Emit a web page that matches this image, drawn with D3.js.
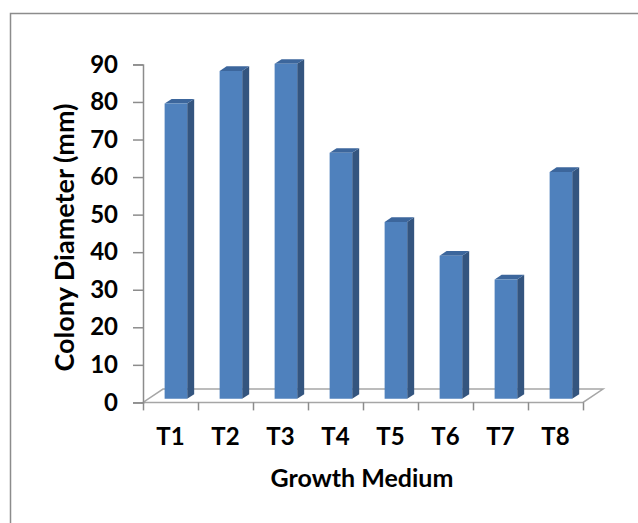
<!DOCTYPE html>
<html>
<head>
<meta charset="utf-8">
<script src="https://cdn.jsdelivr.net/npm/d3@7"></script>
<style>
	body { margin: 0; background: #fff; }
	svg { display: block; }
	text { font-family: Lato, "Open Sans", sans-serif; font-weight: bold; fill: #000; }
	.axis path, .axis line { stroke: #8c8c8c; stroke-width: 1.5; }
</style>
</head>
<body>
<script>
var categories = ["T1", "T2", "T3", "T4", "T5", "T6", "T7", "T8"];
var diameters = [78.6, 87.3, 89.2, 65.5, 47.1, 38.1, 31.8, 60.4];
var yTicks = [0, 10, 20, 30, 40, 50, 60, 70, 80, 90];
var xTitle = "Growth Medium",
		yTitle = "Colony Diameter (mm)";

var width = 638,
		height = 523;

// plot box (front plane) and the 3d depth offset
var plot = {left: 143, right: 583, top: 64.4, bottom: 402.4};
var depth = {dx: 20, dy: -13.3},
		barFront = 0.27,
		barBack = 0.62;

var svg = d3.select("body").append("svg")
		.attr("width", width)
		.attr("height", height);

svg.append("rect")
		.attr("x", 10.5)
		.attr("y", 13.5)
		.attr("width", 660)
		.attr("height", 540)
		.attr("fill", "none")
		.attr("stroke", "#8c8c8c")
		.attr("stroke-width", 1.5);

var x = d3.scaleBand()
		.domain(categories)
		.range([plot.left, plot.right])
		.paddingInner(0.59)
		.paddingOuter(0.295);

var xEdge = d3.scaleLinear()
		.domain([0, categories.length])
		.range([plot.left, plot.right]);

var y = d3.scaleLinear()
		.domain([0, 90])
		.range([plot.bottom, plot.top]);

function proj(px, py, z) {
	return [px + depth.dx * z, py + depth.dy * z];
}

function pts(list) {
	return list.map(function(p) { return p.join(","); }).join(" ");
}

// floor
svg.append("polygon")
		.attr("points", pts([
			proj(plot.left, y(0), 0),
			proj(plot.right, y(0), 0),
			proj(plot.right, y(0), 1),
			proj(plot.left, y(0), 1)
		]))
		.attr("fill", "none")
		.attr("stroke", "#a6a6a6")
		.attr("stroke-width", 1.5);

// axes
var gy = svg.append("g")
		.attr("class", "axis axis--y")
		.attr("transform", "translate(" + plot.left + ",0)")
		.call(d3.axisLeft(y)
			.tickValues(yTicks)
			.tickSize(10)
			.tickPadding(15));
gy.selectAll("text")
		.style("font-size", "24px");

var gx = svg.append("g")
		.attr("class", "axis axis--x")
		.attr("transform", "translate(0," + plot.bottom + ")")
		.call(d3.axisBottom(xEdge)
			.tickValues(d3.range(categories.length + 1))
			.tickSize(8)
			.tickFormat(""));
gx.select(".domain").remove();

var gLabels = svg.append("g")
		.attr("class", "axis axis--labels")
		.attr("transform", "translate(0," + plot.bottom + ")")
		.call(d3.axisBottom(x).tickSize(0).tickPadding(26));
gLabels.select(".domain").remove();
gLabels.selectAll("text")
		.style("font-size", "24px");

// bars
var bars = svg.append("g")
		.attr("class", "bars")
		.selectAll("g")
		.data(categories.map(function(c, i) { return {name: c, value: diameters[i]}; }))
		.join("g");

bars.append("polygon")
		.attr("class", "side")
		.attr("fill", "#34557f")
		.attr("points", function(d) {
			var x1 = x(d.name) + x.bandwidth();
			return pts([proj(x1, y(d.value), barFront), proj(x1, y(d.value), barBack),
				proj(x1, y(0), barBack), proj(x1, y(0), barFront)]);
		});

bars.append("polygon")
		.attr("class", "top")
		.attr("fill", "#3c669c")
		.attr("points", function(d) {
			var x0 = x(d.name), x1 = x0 + x.bandwidth();
			return pts([proj(x0, y(d.value), barFront), proj(x1, y(d.value), barFront),
				proj(x1, y(d.value), barBack), proj(x0, y(d.value), barBack)]);
		});

bars.append("polygon")
		.attr("class", "front")
		.attr("fill", "#4f81bd")
		.attr("points", function(d) {
			var x0 = x(d.name), x1 = x0 + x.bandwidth();
			return pts([proj(x0, y(d.value), barFront), proj(x1, y(d.value), barFront),
				proj(x1, y(0), barFront), proj(x0, y(0), barFront)]);
		});

// titles
svg.append("text")
		.attr("x", 362)
		.attr("y", 487)
		.attr("text-anchor", "middle")
		.style("font-size", "25px")
		.text(xTitle);

svg.append("text")
		.attr("transform", "translate(74,237.5) rotate(-90)")
		.attr("text-anchor", "middle")
		.style("font-size", "27px")
		.text(yTitle);
</script>
</body>
</html>
